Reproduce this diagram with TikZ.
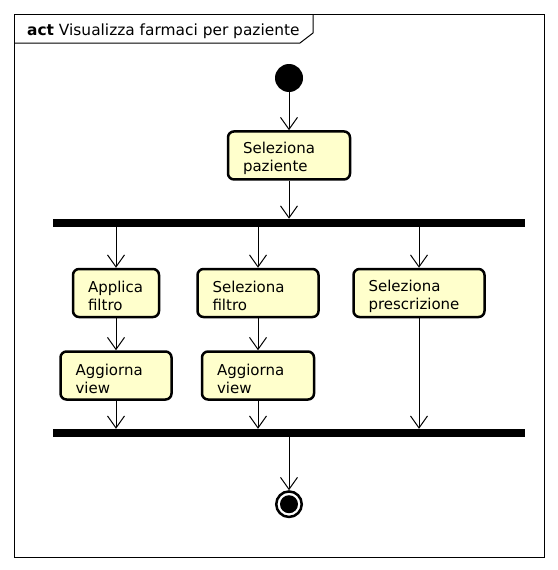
\documentclass[tikz,border=0pt]{standalone}
\usepackage{fontspec}
\setmainfont{DejaVu Sans}
\usepackage{tikz}
\usetikzlibrary{arrows.meta,positioning,shapes}
\definecolor{actfill}{HTML}{FFFFCC}

\begin{document}
\begin{tikzpicture}
          [x=1pt,y=-1pt,
            font=\fontsize{15}{18}\selectfont,
            action/.style={rectangle,rounded corners=6pt,draw,line width=2.5pt,fill=actfill,
              align=left,inner xsep=15pt,inner ysep=3pt,text width=#1,text height=17.4pt,
              minimum height=48pt},
            bar/.style={rectangle,fill=black,inner sep=0pt,minimum width=472pt,minimum height=8pt},
            flow/.style={draw,line width=1pt,-{Straight Barb[length=12pt,width=17pt]}}]
          \useasboundingbox (0,0) rectangle (557,570);
          \draw[line width=1pt] (14,14) rectangle (544,557);
          \draw[line width=1pt] (14,43) -- (300,43) -- (313,33) -- (313,14);
          \node[anchor=base west,inner sep=0pt,font=\fontsize{15.4}{18}\selectfont] (title) at (27,35)
            {\textbf{act} Visualizza farmaci per paziente};
          \node[circle,fill=black,inner sep=0pt,minimum size=28pt] (start) at (289,78) {};
          \node[action=92pt] (sp) [below=38pt of start] {Seleziona\\paziente};
          \node[bar] (fork) [below=38pt of sp] {};
          \node[action=56pt] (af) at (116,293) {Applica\\filtro};
          \node[action=91pt] (sf) at (258,293) {Seleziona\\filtro};
          \node[action=101pt] (spr) at (419,293) {Seleziona\\prescrizione};
          \node[action=81pt] (av1) [below=32pt of af] {Aggiorna\\view};
          \node[action=82pt] (av2) [below=32pt of sf] {Aggiorna\\view};
          \node[bar] (join) at (289,433) {};
          \node[circle,draw,line width=2.5pt,fill=white,inner sep=0pt,minimum size=25.5pt,
            path picture={\fill[black] (path picture bounding box.center) circle (9pt);}]
            (end) [below=53pt of join] {};
          \foreach \from/\to in {start/sp,sp/fork,af/av1,sf/av2,join/end}
          \draw[flow] (\from) -- (\to);
          \foreach \n in {af,sf,spr}
          \draw[flow] (fork.south -| \n) -- (\n);
          \foreach \n in {av1,av2,spr}
          \draw[flow] (\n) -- (\n |- join.north);
        \end{tikzpicture}
\end{document}
